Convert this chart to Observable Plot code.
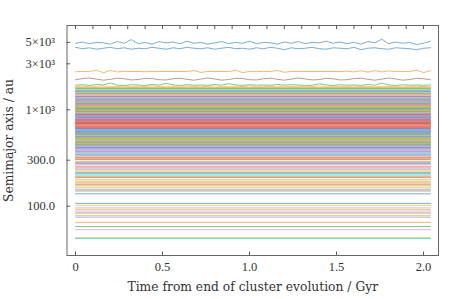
<!DOCTYPE html>
<html><head><meta charset="utf-8">
<script src="https://cdn.jsdelivr.net/npm/d3@7"></script>
<script src="https://cdn.jsdelivr.net/npm/@observablehq/plot@0.6"></script>
<style>body{margin:0;background:#fff}#chart{width:463px;height:299px}</style>
</head><body><div id="chart"></div><script>
// sample times (Gyr)
const times = [0,0.04,0.08,0.12,0.16,0.2,0.24,0.28,0.32,0.36,0.4,0.44,0.48,0.52,0.56,0.6,0.64,0.68,0.72,0.76,0.8,0.84,0.88,0.92,0.96,1,1.04,1.08,1.12,1.16,1.2,1.24,1.28,1.32,1.36,1.4,1.44,1.48,1.52,1.56,1.6,1.64,1.68,1.72,1.76,1.8,1.84,1.88,1.92,1.96,2,2.04];

// outer orbits with visible variation (semimajor axis, au)
const wideIds = [100, 110, 101, 105, 102, 108];
const wideA = [4900,5050,4850,5000,4950,4800,5100,4900,5350,4850, 5000,4800,5100,4950,5050,4850,5150,4900,5000,4800, 4950,5100,4850,5000,4900,5150,4850,5000,4950,4800, 5050,4900,5100,4850,5000,4950,5150,4900,5050,4850, 5000,4800,5100,4950,5400,4850,5050,4900,5000,4750, 4900,5150];
const wideB = [4450,4300,4400,4250,4350,4450,4300,4400,4250,4350, 4300,4450,4350,4250,4400,4300,4450,4350,4300,4400, 4250,4350,4450,4300,4350,4250,4400,4300,4450,4350, 4200,4400,4300,4350,4450,4300,4250,4400,4350,4300, 4450,4200,4350,4400,4300,4250,4400,4350,4300,4200, 4350,4400];
const wideC = [2480,2500,2490,2580,2420,2560,2470,2510,2490,2500, 2480,2500,2490,2500,2495,2500,2490,2560,2440,2500, 2490,2500,2490,2580,2430,2500,2490,2500,2490,2570, 2450,2500,2495,2500,2490,2500,2495,2500,2490,2520, 2470,2540,2460,2550,2470,2530,2490,2500,2490,2580, 2430,2550];
const wideD = [2050,2110,2140,2080,2030,2070,2130,2100,2040,2060, 2120,2110,2050,2040,2100,2130,2070,2030,2080,2140, 2090,2030,2060,2120,2110,2050,2040,2100,2130,2070, 2030,2080,2140,2090,2040,2060,2120,2100,2040,2050, 2110,2130,2070,2030,2080,2140,2090,2030,2060,2120, 2100,2050];
const wideE = [1800,1820,1790,1830,1810,1900,1800,1790,1820,1810, 1790,1830,1800,1880,1810,1790,1820,1800,1810,1790, 1830,1800,1870,1810,1790,1820,1800,1810,1790,1830, 1800,1820,1810,1790,1800,1860,1810,1790,1820,1800, 1810,1790,1830,1800,1890,1810,1790,1820,1800,1810, 1790,1820];
const wideF = [1740,1760,1730,1750,1770,1735,1745,1760,1730,1750, 1740,1770,1735,1755,1740,1730,1760,1745,1735,1750, 1765,1740,1730,1755,1745,1760,1735,1740,1750,1730, 1760,1745,1735,1755,1740,1770,1730,1750,1745,1735, 1760,1740,1750,1730,1755,1745,1740,1760,1735,1750, 1740,1755];
const wideSeries = [wideA, wideB, wideC, wideD, wideE, wideF];

// inner orbits, nearly constant semimajor axis (au) and particle ids
const bandLevels = [
 1700,1665,1635,1605,1575,1545,1510,1480,1455,1425,
 1390,1370,1345,1320,1300,1280,1255,1235,1215,1190,1170,1150,1130,1110,
 1090,1075,1058,1042,1025,1010,995,980,965,950,938,
 922,908,895,882,870,858,845,832,820,808,796,784,772,
 762,752,742,732,722,712,702,692,682,672,662,652,644,
 635,626,617,608,599,590,581,572,563,555,547,
 538,530,521,512,504,496,488,480,472,464,456,448,440,432,424,
 414,406,398,390,380,372,364,355,346,338,
 326,318,311,304,
 290,283,276,268,258,250,242,
 232,224,217,210,203,198,
 188,181,175,169,163,157,
 150,144,134.5,
 107,102,96,92.5,89,85,80,77,68,61.5,57,47,46.3];
const bandIds = [
 201,212,228,239,244,250,268,272,284,291,
 304,310,326,331,344,359,360,371,384,396,402,410,424,431,
 442,458,461,477,480,492,508,511,522,537,548,
 556,560,574,583,596,600,619,624,633,646,650,663,674,
 683,691,703,713,725,733,741,753,766,773,781,793,800,
 810,824,836,849,850,864,872,886,890,909,914,
 928,932,947,954,968,972,981,998,1007,1014,1022,1038,1045,1052,1064,
 1074,1080,1094,1104,1116,1120,1134,1149,1154,1160,
 1171,1183,1191,1205,
 1211,1224,1230,1246,1251,1264,1277,
 1281,1292,1300,1319,1321,1335,
 1341,1358,1361,1375,1381,1398,
 1407,1415,1420,
 1430,1448,1456,1468,1476,1485,1498,1504,1511,1522,1536,1548,1559];

// axis ticks
const xTicks = [0, 0.5, 1, 1.5, 2];
const xTickLabels = ["0", "0.5", "1.0", "1.5", "2.0"];
const xMinorTicks = [0,0.1,0.2,0.3,0.4,0.5,0.6,0.7,0.8,0.9,1,1.1,1.2,1.3,1.4,1.5,1.6,1.7,1.8,1.9,2];
const yTicks = [100, 300, 1000, 3000, 5000];
const yTickLabels = ["100.0", "300.0", "1×10³", "3×10³", "5×10³"];
const xLabel = "Time from end of cluster evolution / Gyr";
const yLabel = "Semimajor axis / au";

const rows = [];
bandLevels.forEach((a, i) => {
  rows.push({id: bandIds[i], t: times[0], a});
  rows.push({id: bandIds[i], t: times[times.length - 1], a});
});
wideSeries.forEach((s, k) => s.forEach((a, j) => rows.push({id: wideIds[k], t: times[j], a})));

const tickFont = "'Liberation Serif', serif";
const labelFont = "'DejaVu Serif', serif";
const chart = Plot.plot({
  width: 463, height: 299,
  marginLeft: 66.5, marginRight: 25, marginTop: 25, marginBottom: 44,
  style: {fontFamily: tickFont, fontSize: "12.5px", color: "#333", background: "#fff"},
  x: {domain: [-0.049, 2.086]},
  y: {type: "log", domain: [30.8, 7490]},
  color: {type: "ordinal", domain: d3.range(10), range: d3.schemeCategory10},
  marks: [
    Plot.line(rows, {x: "t", y: "a", z: "id", stroke: d => d.id % 10, strokeWidth: 0.75, strokeOpacity: 0.8}),
    Plot.frame({stroke: "#666"}),
    Plot.axisX(xTicks, {anchor: "bottom", tickSize: -3.5, tickFormat: () => "", label: null, stroke: "#555"}),
    Plot.axisX(xMinorTicks, {anchor: "top", tickSize: -3, tickFormat: () => "", label: null, stroke: "#555"}),
    Plot.axisY(yTicks, {anchor: "left", tickSize: -3.5, tickFormat: () => "", label: null, stroke: "#555"}),
    Plot.text(xTicks, {x: d => d, text: (d, i) => xTickLabels[i], frameAnchor: "bottom", dy: 15, fill: "#333"}),
    Plot.text(yTicks, {y: d => d, text: (d, i) => yTickLabels[i], frameAnchor: "left", textAnchor: "end", dx: -12, fill: "#333"}),
    Plot.text([xLabel], {text: d => d, frameAnchor: "bottom", textAnchor: "middle", dy: 35, fontFamily: labelFont, fontSize: 12.3, fill: "#333"}),
    Plot.text([yLabel], {text: d => d, frameAnchor: "left", textAnchor: "middle", rotate: -90, dx: -57.5, fontFamily: labelFont, fontSize: 12.3, fill: "#333"})
  ]
});
document.getElementById("chart").append(chart);
</script></body></html>
